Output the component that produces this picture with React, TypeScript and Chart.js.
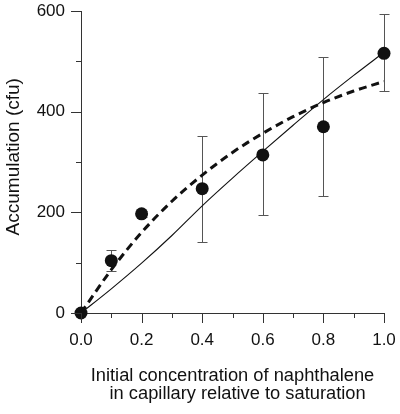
import React, { useEffect, useRef } from 'react';
import { Chart, registerables } from 'chart.js';

Chart.register(...registerables);

// Measured data (x = initial concentration relative to saturation, y = accumulation in cfu)
const pointX = [0, 0.1, 0.2, 0.4, 0.6, 0.8, 1.0];
const pointY = [0, 104, 197, 247, 314, 370, 516];
const errLow = [0, 83, 190, 141, 194, 233, 442];
const errHigh = [0, 126, 203, 352, 437, 508, 594];

// Model curves
const curveX = [0, 0.1, 0.2, 0.3, 0.4, 0.5, 0.6, 0.7, 0.8, 0.9, 1.0];
const solidFitY = [0, 48, 99, 154, 213, 268, 321, 373, 424, 472, 518];
const dashedFitY = [0, 86, 160, 222, 274, 319, 357, 390, 418, 441, 460];

// Axis setup
const xMin = 0;
const xMax = 1;
const xStep = 0.1;
const yMin = 0;
const yMax = 600;
const yStep = 100;

const xTitle = ['Initial concentration of naphthalene', '  in capillary relative to saturation'];
const yTitle = '  Accumulation (cfu)';

const FONT = "'Liberation Sans', Arial, Helvetica, sans-serif";
const INK = '#111111';
const AXIS = '#333333';

const tickMarksPlugin = {
  id: 'tickMarks',
  afterDraw(chart: any) {
    const { ctx, chartArea, scales } = chart;
    ctx.save();
    ctx.strokeStyle = AXIS;
    ctx.lineWidth = 1;
    const ys = scales.y;
    ys.ticks.forEach((t: any) => {
      const major = Math.round(t.value / yStep) % 2 === 0;
      const len = major ? 10 : 5;
      const py = Math.round(ys.getPixelForValue(t.value)) + 0.5;
      ctx.beginPath();
      ctx.moveTo(chartArea.left, py);
      ctx.lineTo(chartArea.left - len, py);
      ctx.stroke();
    });
    const xs = scales.x;
    xs.ticks.forEach((t: any) => {
      const major = Math.round(t.value / xStep) % 2 === 0;
      const len = major ? 10 : 5;
      const px = Math.round(xs.getPixelForValue(t.value)) + 0.5;
      ctx.beginPath();
      ctx.moveTo(px, chartArea.bottom);
      ctx.lineTo(px, chartArea.bottom + len);
      ctx.stroke();
    });
    ctx.restore();
  },
};

const errorBarsPlugin = {
  id: 'errorBars',
  beforeDatasetsDraw(chart: any) {
    const { ctx, scales } = chart;
    ctx.save();
    ctx.strokeStyle = '#555555';
    ctx.lineWidth = 1;
    const cap = 5;
    pointX.forEach((xv, i) => {
      if (errHigh[i] === errLow[i]) return;
      const px = Math.round(scales.x.getPixelForValue(xv)) + 0.5;
      const yTop = Math.round(scales.y.getPixelForValue(errHigh[i])) + 0.5;
      const yBot = Math.round(scales.y.getPixelForValue(errLow[i])) + 0.5;
      ctx.beginPath();
      ctx.moveTo(px, yTop);
      ctx.lineTo(px, yBot);
      ctx.moveTo(px - cap, yTop);
      ctx.lineTo(px + cap, yTop);
      ctx.moveTo(px - cap, yBot);
      ctx.lineTo(px + cap, yBot);
      ctx.stroke();
    });
    ctx.restore();
  },
};

const zeroPad = (scale: any) => {
  scale.paddingTop = 0;
  scale.paddingBottom = 0;
  scale.paddingLeft = 0;
  scale.paddingRight = 0;
};

export default function App() {
  const canvasRef = useRef<HTMLCanvasElement | null>(null);

  useEffect(() => {
    const canvas = canvasRef.current;
    if (!canvas) return;
    const chart = new Chart(canvas, {
      type: 'scatter',
      data: {
        datasets: [
          {
            label: 'linear fit',
            data: curveX.map((x, i) => ({ x, y: solidFitY[i] })),
            showLine: true,
            borderColor: INK,
            borderWidth: 1.1,
            pointRadius: 0,
            cubicInterpolationMode: 'monotone',
            fill: false,
            order: 2,
          },
          {
            label: 'saturating fit',
            data: curveX.map((x, i) => ({ x, y: dashedFitY[i] })),
            showLine: true,
            borderColor: INK,
            borderWidth: 3,
            borderDash: [8, 5],
            pointRadius: 0,
            cubicInterpolationMode: 'monotone',
            fill: false,
            order: 1,
          },
          {
            label: 'measured',
            data: pointX.map((x, i) => ({ x, y: pointY[i] })),
            showLine: false,
            pointRadius: 6.5,
            pointBackgroundColor: INK,
            pointBorderColor: INK,
            pointBorderWidth: 0,
            clip: false,
            order: 0,
          },
        ] as any,
      },
      options: {
        animation: false,
        responsive: false,
        maintainAspectRatio: false,
        events: [],
        layout: { padding: { top: 11, right: 16, bottom: 0, left: 0 } },
        plugins: {
          legend: { display: false },
          tooltip: { enabled: false },
          title: { display: false },
        },
        scales: {
          x: {
            type: 'linear',
            min: xMin,
            max: xMax,
            grid: { display: false, drawTicks: false },
            border: { display: true, color: AXIS, width: 1 },
            ticks: {
              stepSize: xStep,
              padding: 17,
              color: INK,
              maxRotation: 0,
              autoSkip: false,
              font: { family: FONT, size: 17, lineHeight: 1.2 },
              callback: (v: any) => (Math.round(Number(v) / xStep) % 2 === 0 ? Number(v).toFixed(1) : ''),
            },
            title: {
              display: true,
              text: xTitle,
              color: INK,
              font: { family: FONT, size: 18.3, lineHeight: 1.0 },
              padding: { top: 0, bottom: 11 },
            },
            afterFit: (scale: any) => {
              scale.height = 101;
              zeroPad(scale);
            },
          },
          y: {
            type: 'linear',
            min: yMin,
            max: yMax,
            grid: { display: false, drawTicks: false },
            border: { display: true, color: AXIS, width: 1 },
            ticks: {
              stepSize: yStep,
              padding: 16,
              color: INK,
              autoSkip: false,
              font: { family: FONT, size: 17, lineHeight: 1.2 },
              callback: (v: any) => (Math.round(Number(v) / yStep) % 2 === 0 ? String(v) : ''),
            },
            title: {
              display: true,
              text: yTitle,
              color: INK,
              font: { family: FONT, size: 19, lineHeight: 1.0 },
              padding: { top: 4, bottom: 0 },
            },
            afterFit: (scale: any) => {
              scale.width = 81;
              zeroPad(scale);
            },
          },
        },
      } as any,
      plugins: [tickMarksPlugin, errorBarsPlugin],
    });
    return () => chart.destroy();
  }, []);

  return (
    <div style={{ position: 'absolute', left: 0, top: 0, width: 400, height: 414, background: '#ffffff' }}>
      <canvas ref={canvasRef} width={400} height={414} style={{ width: 400, height: 414, display: 'block' }} />
    </div>
  );
}
